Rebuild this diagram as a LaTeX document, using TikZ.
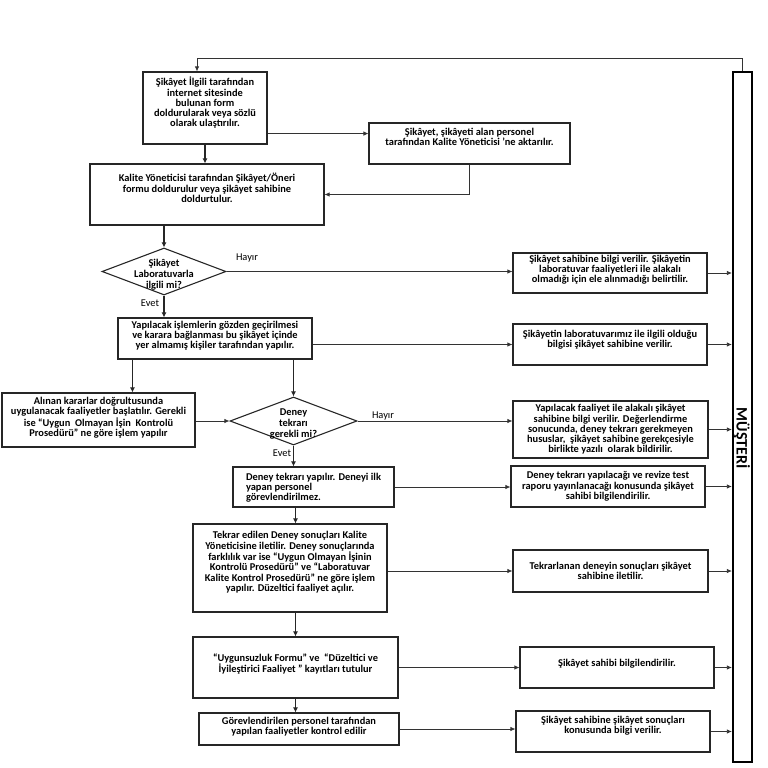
\documentclass[tikz,border=0pt]{standalone}
\usepackage{fontspec}
\setmainfont{Carlito}
\usetikzlibrary{arrows.meta, shapes.geometric}

\begin{document}
\begin{tikzpicture}[x=1pt, y=-1pt,
	box/.style={draw=black!85, line width=1.1pt, rectangle, align=center, inner sep=1pt,
		font=\fontsize{10.4}{10.3}\selectfont\bfseries},
	dia/.style={draw=black!85, line width=1.1pt, diamond, inner sep=0pt, aspect=2.6},
	dtext/.style={align=center, yshift=-3pt, font=\fontsize{10.4}{10.8}\selectfont\bfseries},
	tag/.style={font=\fontsize{10.4}{10}\selectfont},
	flow/.style={draw=black!85, line width=1.4pt, -{Latex[length=5pt,width=5pt]}},
	side/.style={draw=black!80, line width=0.8pt, -{Latex[length=5pt,width=4.5pt]}},
	lift/.style={text depth=#1}]
	\useasboundingbox (0,0) rectangle (768,768);
	
	% Customer bar
	\node[draw=black, line width=2.2pt, minimum width=19pt, minimum height=690pt, inner sep=0pt] (bar) at (742.5,417) {};
	\node[rotate=-90, font=\fontsize{16}{16}\selectfont\bfseries] (musteri) at (742,438) {MÜŞTERİ};
	
	% Left column
	\node[box, minimum width=124pt, minimum height=72pt, lift=12pt] (b1) at (205,108)
		{Şikâyet İlgili tarafından\\internet sitesinde\\bulunan form\\doldurularak veya sözlü\\olarak ulaştırılır.};
	\node[box, minimum width=201pt, minimum height=41pt, lift=13pt] (ba) at (469.5,143.5)
		{Şikâyet, şikâyeti alan personel\\tarafından Kalite Yöneticisi ’ne aktarılır.};
	\node[box, minimum width=234pt, minimum height=61pt, lift=13pt] (b2) at (207,194.5)
		{Kalite Yöneticisi tarafından Şikâyet/Öneri\\formu doldurulur veya şikâyet sahibine\\doldurtulur.};
	\node[dia, minimum width=124pt, minimum height=47pt,
		label={[name=d1t, dtext]center:Şikâyet\\Laboratuvarla\\ilgili mi?}] (d1) at (164,271.5) {};
	\node[box, minimum width=194pt, minimum height=41pt, lift=7pt] (b4) at (215,338.5)
		{Yapılacak işlemlerin gözden geçirilmesi\\ve karara bağlanması bu şikâyet içinde\\yer almamış kişiler tarafından yapılır.};
	\node[box, minimum width=193pt, minimum height=54pt, lift=6pt] (b6) at (98.5,420)
		{Alınan kararlar doğrultusunda\\uygulanacak faaliyetler başlatılır. Gerekli\\ise “Uygun~ Olmayan İşin~ Kontrolü\\Prosedürü” ne göre işlem yapılır};
	\node[dia, minimum width=127pt, minimum height=48pt,
		label={[name=d2t, dtext]center:Deney\\tekrarı\\gerekli mi?}] (d2) at (293.5,421) {};
	\node[box, align=left, minimum width=161pt, minimum height=40pt, lift=-3pt] (b8) at (313.5,487)
		{Deney tekrarı yapılır. Deneyi ilk\\yapan personel\\görevlendirilmez.};
	\node[box, minimum width=194pt, minimum height=88pt, lift=13pt] (b10) at (290,568)
		{Tekrar edilen Deney sonuçları Kalite\\Yöneticisine iletilir. Deney sonuçlarında\\farklılık var ise “Uygun Olmayan İşinin\\Kontrolü Prosedürü” ve “Laboratuvar\\Kalite Kontrol Prosedürü” ne göre işlem\\yapılır. Düzeltici faaliyet açılır.};
	\node[box, minimum width=205pt, minimum height=61pt, lift=9pt] (b12) at (295.5,667.5)
		{“Uygunsuzluk Formu” ve~ “Düzeltici ve\\İyileştirici Faaliyet ” kayıtları tutulur};
	\node[box, minimum width=200pt, minimum height=32pt, lift=6pt] (b14) at (299,729)
		{Görevlendirilen personel tarafından\\yapılan faaliyetler kontrol edilir};
	
	% Right column
	\node[box, minimum width=194pt, minimum height=40pt, lift=8pt] (b3) at (610,273)
		{Şikâyet sahibine bilgi verilir. Şikâyetin\\laboratuvar faaliyetleri ile alakalı\\olmadığı için ele alınmadığı belirtilir.};
	\node[box, minimum width=194pt, minimum height=41pt, lift=11pt] (b5) at (610,344.5)
		{Şikâyetin laboratuvarımız ile ilgili olduğu\\bilgisi şikâyet sahibine verilir.};
	\node[box, minimum width=195pt, minimum height=57pt] (b7) at (610.5,429.5)
		{Yapılacak faaliyet ile alakalı şikâyet\\sahibine bilgi verilir. Değerlendirme\\sonucunda, deney tekrarı gerekmeyen\\hususlar,~ şikâyet sahibine gerekçesiyle\\birlikte yazılı~ olarak bildirilir.};
	\node[box, minimum width=194pt, minimum height=41pt] (b9) at (608,486.5)
		{Deney tekrarı yapılacağı ve revize test\\raporu yayınlanacağı konusunda şikâyet\\sahibi bilgilendirilir.};
	\node[box, minimum width=195pt, minimum height=42pt] (b11) at (610.5,571)
		{Tekrarlanan deneyin sonuçları şikâyet\\sahibine iletilir.};
	\node[box, minimum width=194pt, minimum height=41pt, lift=9pt] (b13) at (617,667.5)
		{Şikâyet sahibi bilgilendirilir.};
	\node[box, minimum width=194pt, minimum height=41pt, lift=13pt] (b15) at (613,731.5)
		{Şikâyet sahibine şikâyet sonuçları\\konusunda bilgi verilir.};
	
	% Branch labels
	\node[tag] (h1) at (247,258) {Hayır};
	\node[tag] (e1) at (150,303) {Evet};
	\node[tag] (h2) at (383,416) {Hayır};
	\node[tag] (e2) at (282,453) {Evet};
	
	% Loop back from the customer
	\coordinate (loop) at (197,58);
	\draw[side] (bar.north) |- (loop) -- (loop |- b1.north);
	
	% Main flow
	\coordinate (b1r) at ([yshift=11pt]b1.south east);
	\coordinate (b4l) at ([xshift=15pt]b4.south west);
	\draw[flow] (b1.south) -- (b1.south |- b2.north);
	\draw[flow] (d1.north |- b2.south) -- (d1.north);
	\draw[flow] (d1.south) -- (d1.south |- b4.north);
	\draw[flow] (b4l) -- (b4l |- b6.north);
	\draw[flow] (d2.north |- b4.south) -- (d2.north);
	\draw[flow] (d2.south) -- (d2.south |- b8.north);
	\draw[flow] (b12.north |- b8.south) -- (b12.north |- b10.north);
	\draw[flow] (b12.north |- b10.south) -- (b12.north);
	\draw[flow] (b12.south) -- (b12.south |- b14.north);
	
	% Side arrows
	\draw[side] (b1r) -- (b1r -| ba.west);
	\draw[side] (ba.south) |- (b2.east);
	\draw[side] (d1.east) -- (d1.east -| b3.west);
	\draw[side] (b4.east |- b5.west) -- (b5.west);
	\draw[side] (b6.east |- d2.west) -- (d2.west);
	\draw[side] (d2.east) -- (d2.east -| b7.west);
	\draw[side] (b8.east) -- (b8.east -| b9.west);
	\draw[side] (b10.east |- b11.west) -- (b11.west);
	\draw[side] (b12.east) -- (b12.east -| b13.west);
	\draw[side] (b14.east) -- (b14.east -| b15.west);
	\foreach \n in {b3,b5,b7,b9,b11,b13,b15}
		\draw[side] (\n.east) -- (\n.east -| bar.west);
\end{tikzpicture}
\end{document}
